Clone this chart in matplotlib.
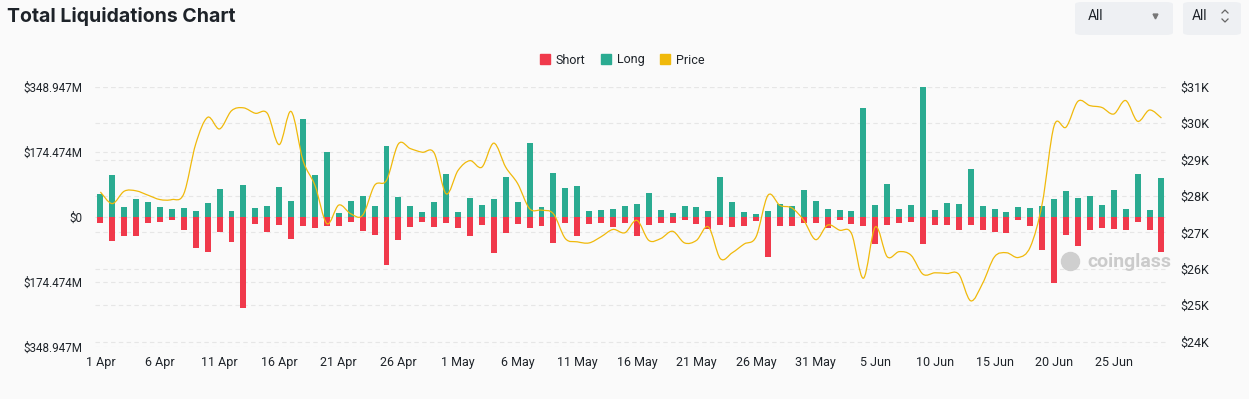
import numpy as np
import datetime as dt
import matplotlib
matplotlib.use("Agg")
from matplotlib import pyplot as plt
from matplotlib.patches import Patch, FancyBboxPatch
from matplotlib.path import Path
from matplotlib.patches import PathPatch
from matplotlib.lines import Line2D
from matplotlib.transforms import blended_transform_factory

# daily values, 1 Apr .. 29 Jun (millions USD / thousand USD)
long_m = [62, 112, 27, 47, 40, 25, 21, 23, 15, 37,
          74, 15, 85, 23, 28, 80, 42, 262, 112, 173,
          11, 43, 56, 29, 189, 52, 30, 13, 39, 115,
          13, 49, 32, 47, 106, 39, 197, 25, 116, 77,
          83, 15, 17, 21, 29, 33, 64, 17, 9, 30,
          26, 15, 107, 40, 12, 7, 15, 34, 28, 71,
          42, 21, 18, 16, 292, 31, 88, 21, 31, 349,
          19, 36, 34, 127, 28, 21, 12, 26, 24, 29,
          47, 69, 49, 55, 31, 71, 21, 115, 19, 103]
short_m = [18, 66, 51, 51, 17, 13, 8, 36, 83, 95,
           42, 67, 246, 20, 40, 22, 61, 25, 31, 24,
           24, 14, 38, 49, 130, 62, 27, 14, 27, 16,
           31, 51, 23, 98, 43, 20, 31, 25, 71, 18,
           51, 20, 18, 28, 18, 53, 22, 16, 16, 8,
           20, 34, 21, 27, 24, 12, 109, 24, 24, 17,
           17, 30, 8, 20, 24, 72, 21, 18, 13, 74,
           21, 23, 37, 21, 37, 40, 43, 10, 24, 90,
           179, 48, 79, 36, 31, 32, 37, 15, 36, 94]
price_k = [28.11, 27.79, 28.13, 28.14, 28.02, 27.90, 27.90, 28.06, 29.43, 30.16,
           29.84, 30.34, 30.42, 30.27, 30.27, 29.41, 30.32, 28.97, 28.29, 27.24,
           27.75, 27.51, 27.47, 28.29, 28.43, 29.43, 29.30, 29.20, 29.18, 28.06,
           28.70, 28.97, 28.79, 29.45, 28.79, 28.34, 27.65, 27.61, 27.51, 26.83,
           26.74, 26.71, 26.88, 27.08, 26.99, 27.33, 26.78, 26.83, 27.03, 26.71,
           26.78, 27.15, 26.28, 26.44, 26.68, 26.88, 28.02, 27.74, 27.67, 27.33,
           26.80, 27.20, 27.06, 26.97, 25.74, 27.15, 26.33, 26.47, 26.37, 25.85,
           25.89, 25.87, 25.85, 25.12, 25.60, 26.33, 26.44, 26.31, 26.60, 27.79,
           29.93, 29.89, 30.60, 30.48, 30.43, 30.25, 30.62, 30.05, 30.36, 30.14]

start = dt.date(2023, 4, 1)
dates = [start + dt.timedelta(days=i) for i in range(len(long_m))]
tick_idx = list(range(0, len(dates), 5))
tick_labels = [f"{dates[i].day} {dates[i].strftime('%b')}" for i in tick_idx]

left_ticks = [-348.947, -174.474, 0, 174.474, 348.947]
right_ticks = [24, 25, 26, 27, 28, 29, 30, 31]

RED = '#f0394b'
TEAL = '#2aab91'
GOLD = '#f0b90b'
BG = '#fafafa'
TXT = '#1e2329'
GRID = '#e6e6e6'

plt.rcParams['font.family'] = ['Roboto', 'DejaVu Sans']

fig = plt.figure(figsize=(12.49, 3.99), dpi=100, facecolor=BG)
ax = fig.add_axes([95/1249, 1 - 346.7/399, (1168-95)/1249, 260/399])
ax.set_facecolor(BG)
ax2 = ax.twinx()
ax2.set_ylim(23.86, 30.98)

x = np.arange(len(long_m))
ax.bar(x, long_m, width=0.5, color=TEAL, zorder=3)
ax.bar(x, -np.array(short_m), width=0.5, color=RED, zorder=3)
ax.set_xlim(-0.45, 89.55)
ax.set_ylim(-348.947, 348.947)
ax.set_yticks(left_ticks)
ax.set_yticklabels(["$0" if v == 0 else f"${abs(v):.3f}M" for v in left_ticks])
ax.set_xticks(tick_idx)
ax.set_xticklabels(tick_labels)

# gridlines of both axes, all behind the bars
for v in left_ticks:
    ax.axhline(v, color=GRID, lw=0.8, ls=(0, (4, 3)), zorder=0)
right_tr = blended_transform_factory(ax.transAxes, ax2.transData)
for v in right_ticks:
    ax.plot([0, 1], [v, v], transform=right_tr, color=GRID, lw=0.8,
            ls=(0, (4, 3)), zorder=0)

ax2.set_yticks(right_ticks)
ax2.set_yticklabels([f"${v}K" for v in right_ticks])

# smooth price line (Catmull-Rom drawn as bezier path)
pts = np.column_stack([x, price_k]).astype(float)
verts = [pts[0]]
codes = [Path.MOVETO]
for i in range(len(pts) - 1):
    p0 = pts[max(i - 1, 0)]
    p1 = pts[i]
    p2 = pts[i + 1]
    p3 = pts[min(i + 2, len(pts) - 1)]
    verts += [p1 + (p2 - p0) / 6, p2 - (p3 - p1) / 6, p2]
    codes += [Path.CURVE4] * 3
ax2.add_patch(PathPatch(Path(verts, codes), fill=False, edgecolor=GOLD, lw=0.9, zorder=4))

for a in (ax, ax2):
    for s in a.spines.values():
        s.set_visible(False)
    a.tick_params(length=0, labelsize=9, colors=TXT)
ax.tick_params(axis='y', pad=9, labelsize=8.4)
ax2.tick_params(axis='y', pad=9)
ax.tick_params(axis='x', pad=7)

# watermark
fig.text(1087/1249, 1 - 262/399, "coinglass", fontsize=14, fontweight='bold',
         color='#cbcbcb', va='center', ha='left')
fig.add_artist(Line2D([1070/1249], [1 - 261/399], marker='o', ms=13,
                      color='#cfcfcf', transform=fig.transFigure))

# header
fig.text(7/1249, 1 - 16/399, "Total Liquidations Chart", fontsize=14,
         fontweight='bold', color=TXT, va='center', ha='left',
         family=['Inter', 'DejaVu Sans'])
for x0, x1 in [(1075, 1173), (1183, 1241)]:
    fig.add_artist(FancyBboxPatch((x0/1249, 1 - 35/399), (x1-x0)/1249, 33/399,
                                  boxstyle="round,pad=0,rounding_size=0.006",
                                  transform=fig.transFigure, facecolor='#eef0f3',
                                  edgecolor='none'))
fig.text(1088/1249, 1 - 16/399, "All", fontsize=10, color=TXT, va='center')
fig.text(1192/1249, 1 - 16/399, "All", fontsize=10, color=TXT, va='center')
fig.add_artist(Line2D([1155/1249], [1 - 16/399], marker='v', ms=3.5,
                      color='#777777', transform=fig.transFigure))
fig.add_artist(Line2D([1222/1249, 1225/1249, 1228/1249],
                      [1 - 13/399, 1 - 10/399, 1 - 13/399], lw=0.9,
                      color='#666666', transform=fig.transFigure))
fig.add_artist(Line2D([1222/1249, 1225/1249, 1228/1249],
                      [1 - 19/399, 1 - 22/399, 1 - 19/399], lw=0.9,
                      color='#666666', transform=fig.transFigure))

# legend
handles = [Patch(color=RED, label='Short'), Patch(color=TEAL, label='Long'),
           Patch(color=GOLD, label='Price')]
fig.legend(handles=handles, loc='center', bbox_to_anchor=(622/1249, 1 - 60/399),
           ncol=3, frameon=False, fontsize=9, handlelength=0.8, handleheight=0.8,
           handletextpad=0.5, columnspacing=1.2, labelcolor=TXT)

fig.savefig("out.png", dpi=100, facecolor=BG)
